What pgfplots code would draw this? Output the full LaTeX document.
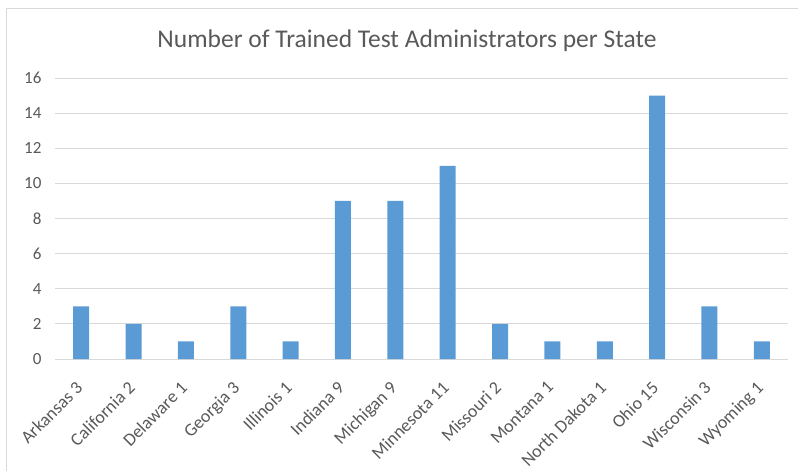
\documentclass[border=0pt]{standalone}
\usepackage{pgfplots}
\pgfplotsset{compat=1.18}
\usepackage{fontspec}
\setmainfont{Carlito}
\definecolor{barblue}{HTML}{5B9BD5}
\definecolor{gridgray}{HTML}{D9D9D9}
\definecolor{txtgray}{HTML}{595959}
\definecolor{bordergray}{HTML}{D9D9D9}
\begin{document}
\begin{tikzpicture}[x=1pt,y=1pt]
\useasboundingbox (-55,-112) rectangle (743,359);
\draw[bordergray, line width=1pt] (-48,-112) -- (-48,350.5) -- (743,350.5);
\node[txtgray, font=\fontsize{25.5}{30}\selectfont] at (352,318) {Number of Trained Test Administrators per State};
\begin{axis}[
  at={(0,0)}, anchor=south west,
  scale only axis, width=733pt, height=281pt,
  xmin=-0.5, xmax=13.5, ymin=0, ymax=16,
  ytick={0,2,...,16},
  xtick={0,...,13},
  xticklabels={Arkansas 3, California 2, Delaware 1, Georgia 3, Illinois 1, Indiana 9, Michigan 9, Minnesota 11, Missouri 2, Montana 1, North Dakota 1, Ohio 15, Wisconsin 3, Wyoming 1},
  ymajorgrids, grid style={gridgray, line width=0.8pt},
  axis line style={draw=none},
  major tick length=0pt,
  /pgf/number format/assume math mode=true,
  yticklabel style={anchor=east, xshift=-10pt, text=txtgray, font=\fontsize{17}{20}\selectfont},
  xticklabel style={rotate=45, anchor=north east, yshift=-7pt, xshift=-16pt, text=txtgray, font=\fontsize{18}{22}\selectfont},
  ybar, bar width=16pt,
]
\addplot[fill=barblue, draw=none] coordinates {
(0,3) (1,2) (2,1) (3,3) (4,1) (5,9) (6,9) (7,11) (8,2) (9,1) (10,1) (11,15) (12,3) (13,1)};
\end{axis}
\end{tikzpicture}
\end{document}
